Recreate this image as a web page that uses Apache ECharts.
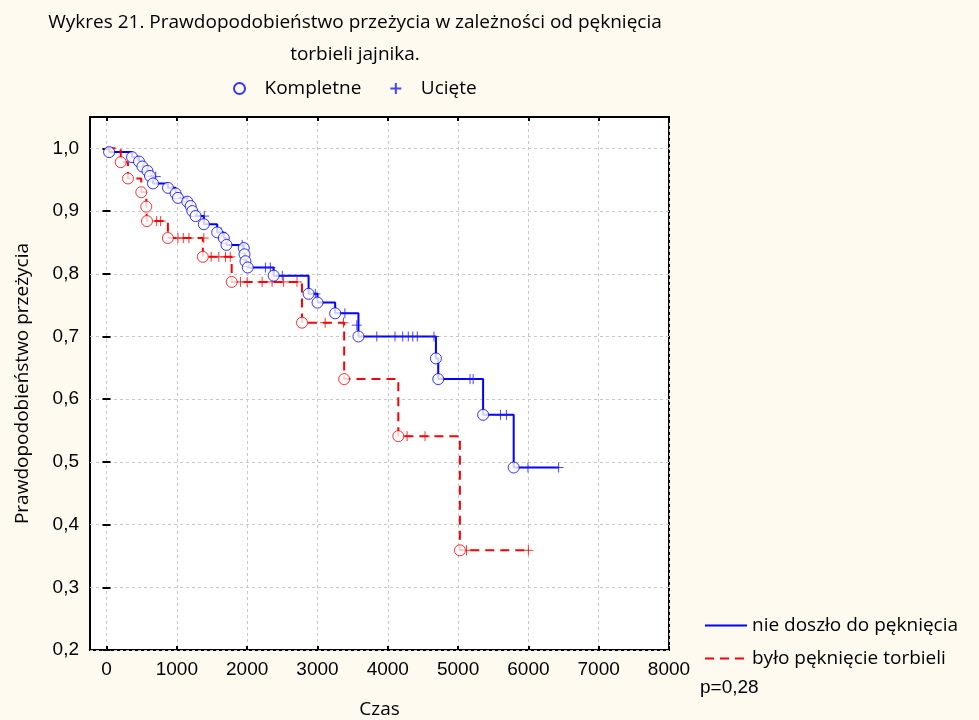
<!DOCTYPE html>
<html>
<head>
<meta charset="utf-8">
<script src="https://cdn.jsdelivr.net/npm/echarts@6/dist/echarts.min.js"></script>
<style>
html,body{margin:0;padding:0;background:#FEFAF0;}
#chart{width:979px;height:720px;}
</style>
</head>
<body>
<div id="chart"></div>
<script>
// ---- data ----
var titleLines = ['Wykres 21. Prawdopodobieństwo przeżycia w zależności od pęknięcia', 'torbieli jajnika.'];
var xTicks = [0, 1000, 2000, 3000, 4000, 5000, 6000, 7000, 8000];
var yTicks = [0.2, 0.3, 0.4, 0.5, 0.6, 0.7, 0.8, 0.9, 1.0];

var seriesNames = ['nie doszło do pęknięcia', 'było pęknięcie torbieli'];
var markNames = ['Kompletne', 'Ucięte'];

// group 1: nie doszło do pęknięcia (blue)
var blueEventTimes = [37, 363, 462, 511, 582, 618, 661, 874, 983, 1016, 1149, 1196, 1220, 1267, 1384, 1574, 1668, 1706, 1952, 1962, 1976, 2009, 2377, 2874, 3001, 3252, 3583, 4685, 4718, 5356, 5791];
var blueEventSurv = [0.994, 0.986, 0.979, 0.971, 0.964, 0.956, 0.944, 0.937, 0.928, 0.921, 0.915, 0.908, 0.900, 0.892, 0.879, 0.866, 0.857, 0.846, 0.841, 0.831, 0.820, 0.810, 0.797, 0.768, 0.754, 0.737, 0.700, 0.665, 0.632, 0.575, 0.491];
var blueCensTimes = [700, 1150, 1390, 1630, 1930, 2260, 2330, 2500, 2970, 3390, 3560, 3844, 4103, 4213, 4292, 4355, 4420, 4657, 5170, 5214, 5603, 5688, 5994, 6430];
var blueCensSurv = [0.955, 0.915, 0.892, 0.866, 0.846, 0.810, 0.810, 0.797, 0.768, 0.737, 0.718, 0.700, 0.700, 0.700, 0.700, 0.700, 0.700, 0.700, 0.632, 0.632, 0.575, 0.575, 0.491, 0.491];

// group 2: było pęknięcie torbieli (red)
var redEventTimes = [202, 305, 494, 565, 575, 873, 1370, 1780, 2780, 3380, 4150, 5026];
var redEventSurv = [0.978, 0.952, 0.930, 0.907, 0.884, 0.857, 0.827, 0.787, 0.722, 0.632, 0.541, 0.359];
var redCensTimes = [713, 770, 1016, 1092, 1172, 1384, 1489, 1597, 1692, 1760, 1905, 2000, 2213, 2355, 2519, 2709, 3110, 3370, 4275, 4530, 5120, 6000];
var redCensSurv = [0.884, 0.884, 0.857, 0.857, 0.857, 0.857, 0.827, 0.827, 0.827, 0.827, 0.787, 0.787, 0.787, 0.787, 0.787, 0.787, 0.722, 0.722, 0.541, 0.541, 0.359, 0.359];

var pValueText = 'p=0,28';

// ---- build ----
function zip(a, b) { return a.map(function (v, i) { return [v, b[i]]; }); }
function stepLine(times, surv, censT) {
  var pts = [[0, 1.0]].concat(zip(times, surv));
  pts.push([censT[censT.length - 1], surv[surv.length - 1]]);
  return pts;
}

var BLUE = '#0000FF', RED = '#FF0000';
var plusPath = 'path://M5,0L5,10M0,5L10,5';
var font = '"Open Sans", Arial, sans-serif';
var numFont = '"Liberation Sans", Arial, sans-serif';
var FS = 19;

var chart = echarts.init(document.getElementById('chart'), null, { renderer: 'canvas' });

var commonX = { type: 'value', min: -235, max: 8000 };
var commonY = { type: 'value', min: 0.2, max: 1.05 };
var tickStyle = { color: '#000', width: 2 };

var option = {
  animation: false,
  backgroundColor: '#FEFAF0',
  textStyle: { fontFamily: font },
  title: {
    text: titleLines.join('\n'),
    left: 350, top: 2, textAlign: 'center',
    textStyle: { fontSize: FS, fontWeight: 'normal', color: '#000', lineHeight: 32, fontFamily: font }
  },
  legend: [{
    data: markNames,
    left: 228, top: 74,
    itemWidth: 40, itemHeight: 11, itemGap: 28,
    symbolKeepAspect: true,
    textStyle: { fontSize: FS, color: '#000', fontFamily: font },
    selectedMode: false
  }, {
    data: seriesNames,
    orient: 'vertical',
    left: 699, top: 611,
    itemWidth: 42, itemHeight: 14, itemGap: 14,
    itemStyle: { opacity: 0 },
    textStyle: { fontSize: FS, color: '#000', fontFamily: font },
    selectedMode: false
  }],
  grid: {
    left: 90, right: 310, top: 117, bottom: 70,
    outerBoundsMode: 'none', containLabel: false,
    show: true, backgroundColor: '#FFFFFF', borderColor: '#000', borderWidth: 2
  },
  xAxis: [
    Object.assign({}, commonX, {
      position: 'bottom',
      name: 'Czas', nameLocation: 'middle', nameGap: 50,
      nameTextStyle: { fontSize: FS, color: '#000', fontFamily: font },
      axisLine: { show: false },
      axisTick: { show: true, inside: true, length: 4, customValues: xTicks, lineStyle: tickStyle },
      axisLabel: {
        customValues: xTicks, fontSize: FS, color: '#000', margin: 10, fontFamily: numFont,
        formatter: function (v) { return String(v); }
      },
      splitLine: { show: true, customValues: xTicks, lineStyle: { color: '#C8C8C8', type: [3, 3], width: 1 } }
    }),
    Object.assign({}, commonX, {
      position: 'top',
      axisLine: { show: false },
      axisTick: { show: true, inside: true, length: 4, customValues: xTicks, lineStyle: tickStyle },
      axisLabel: { show: false },
      splitLine: { show: false }
    })
  ],
  yAxis: [
    Object.assign({}, commonY, {
      position: 'left', interval: 0.1,
      name: 'Prawdopodobieństwo przeżycia', nameLocation: 'middle', nameGap: 58,
      nameTextStyle: { fontSize: FS, color: '#000', fontFamily: font },
      axisLine: { show: false },
      axisTick: { show: true, inside: true, length: 4, customValues: yTicks, lineStyle: tickStyle },
      axisLabel: {
        customValues: yTicks, fontSize: FS, color: '#000', margin: 11, fontFamily: numFont,
        formatter: function (v) { return v.toFixed(1).replace('.', ','); }
      },
      splitLine: { show: true, lineStyle: { color: '#C8C8C8', type: [3, 3], width: 1 } }
    }),
    Object.assign({}, commonY, {
      position: 'right', interval: 0.1,
      axisLine: { show: false },
      axisTick: { show: true, inside: true, length: 4, customValues: yTicks, lineStyle: tickStyle },
      axisLabel: { show: false },
      splitLine: { show: false }
    })
  ],
  graphic: [{
    type: 'text', left: 700, top: 678,
    style: { text: pValueText, fontSize: FS, fill: '#000', fontFamily: numFont }
  }],
  series: [
    {
      name: seriesNames[0], type: 'line', step: 'end', symbol: 'none',
      data: stepLine(blueEventTimes, blueEventSurv, blueCensTimes),
      lineStyle: { color: BLUE, width: 2 }, itemStyle: { color: BLUE }, z: 3
    },
    {
      name: seriesNames[1], type: 'line', step: 'end', symbol: 'none',
      data: stepLine(redEventTimes, redEventSurv, redCensTimes),
      lineStyle: { color: RED, width: 2, type: [9, 6] }, itemStyle: { color: RED }, z: 3
    },
    {
      name: markNames[1], type: 'scatter', symbol: plusPath, symbolSize: 10, symbolKeepAspect: true,
      data: zip(blueCensTimes, blueCensSurv),
      itemStyle: { color: 'rgba(0,0,0,0)', borderColor: '#1818FF', borderWidth: 1 }, z: 4
    },
    {
      name: 'Ucięte (2)', type: 'scatter', symbol: plusPath, symbolSize: 10, symbolKeepAspect: true,
      data: zip(redCensTimes, redCensSurv),
      itemStyle: { color: 'rgba(0,0,0,0)', borderColor: RED, borderWidth: 1 }, z: 4
    },
    {
      name: markNames[0], type: 'scatter', symbol: 'circle', symbolSize: 11,
      data: zip(blueEventTimes, blueEventSurv),
      itemStyle: { color: '#FFFFFF', borderColor: BLUE, borderWidth: 1 }, z: 5
    },
    {
      name: 'Kompletne (2)', type: 'scatter', symbol: 'circle', symbolSize: 11,
      data: zip(redEventTimes, redEventSurv),
      itemStyle: { color: '#FFFFFF', borderColor: RED, borderWidth: 1 }, z: 5
    }
  ]
};
chart.setOption(option);
</script>
</body>
</html>
